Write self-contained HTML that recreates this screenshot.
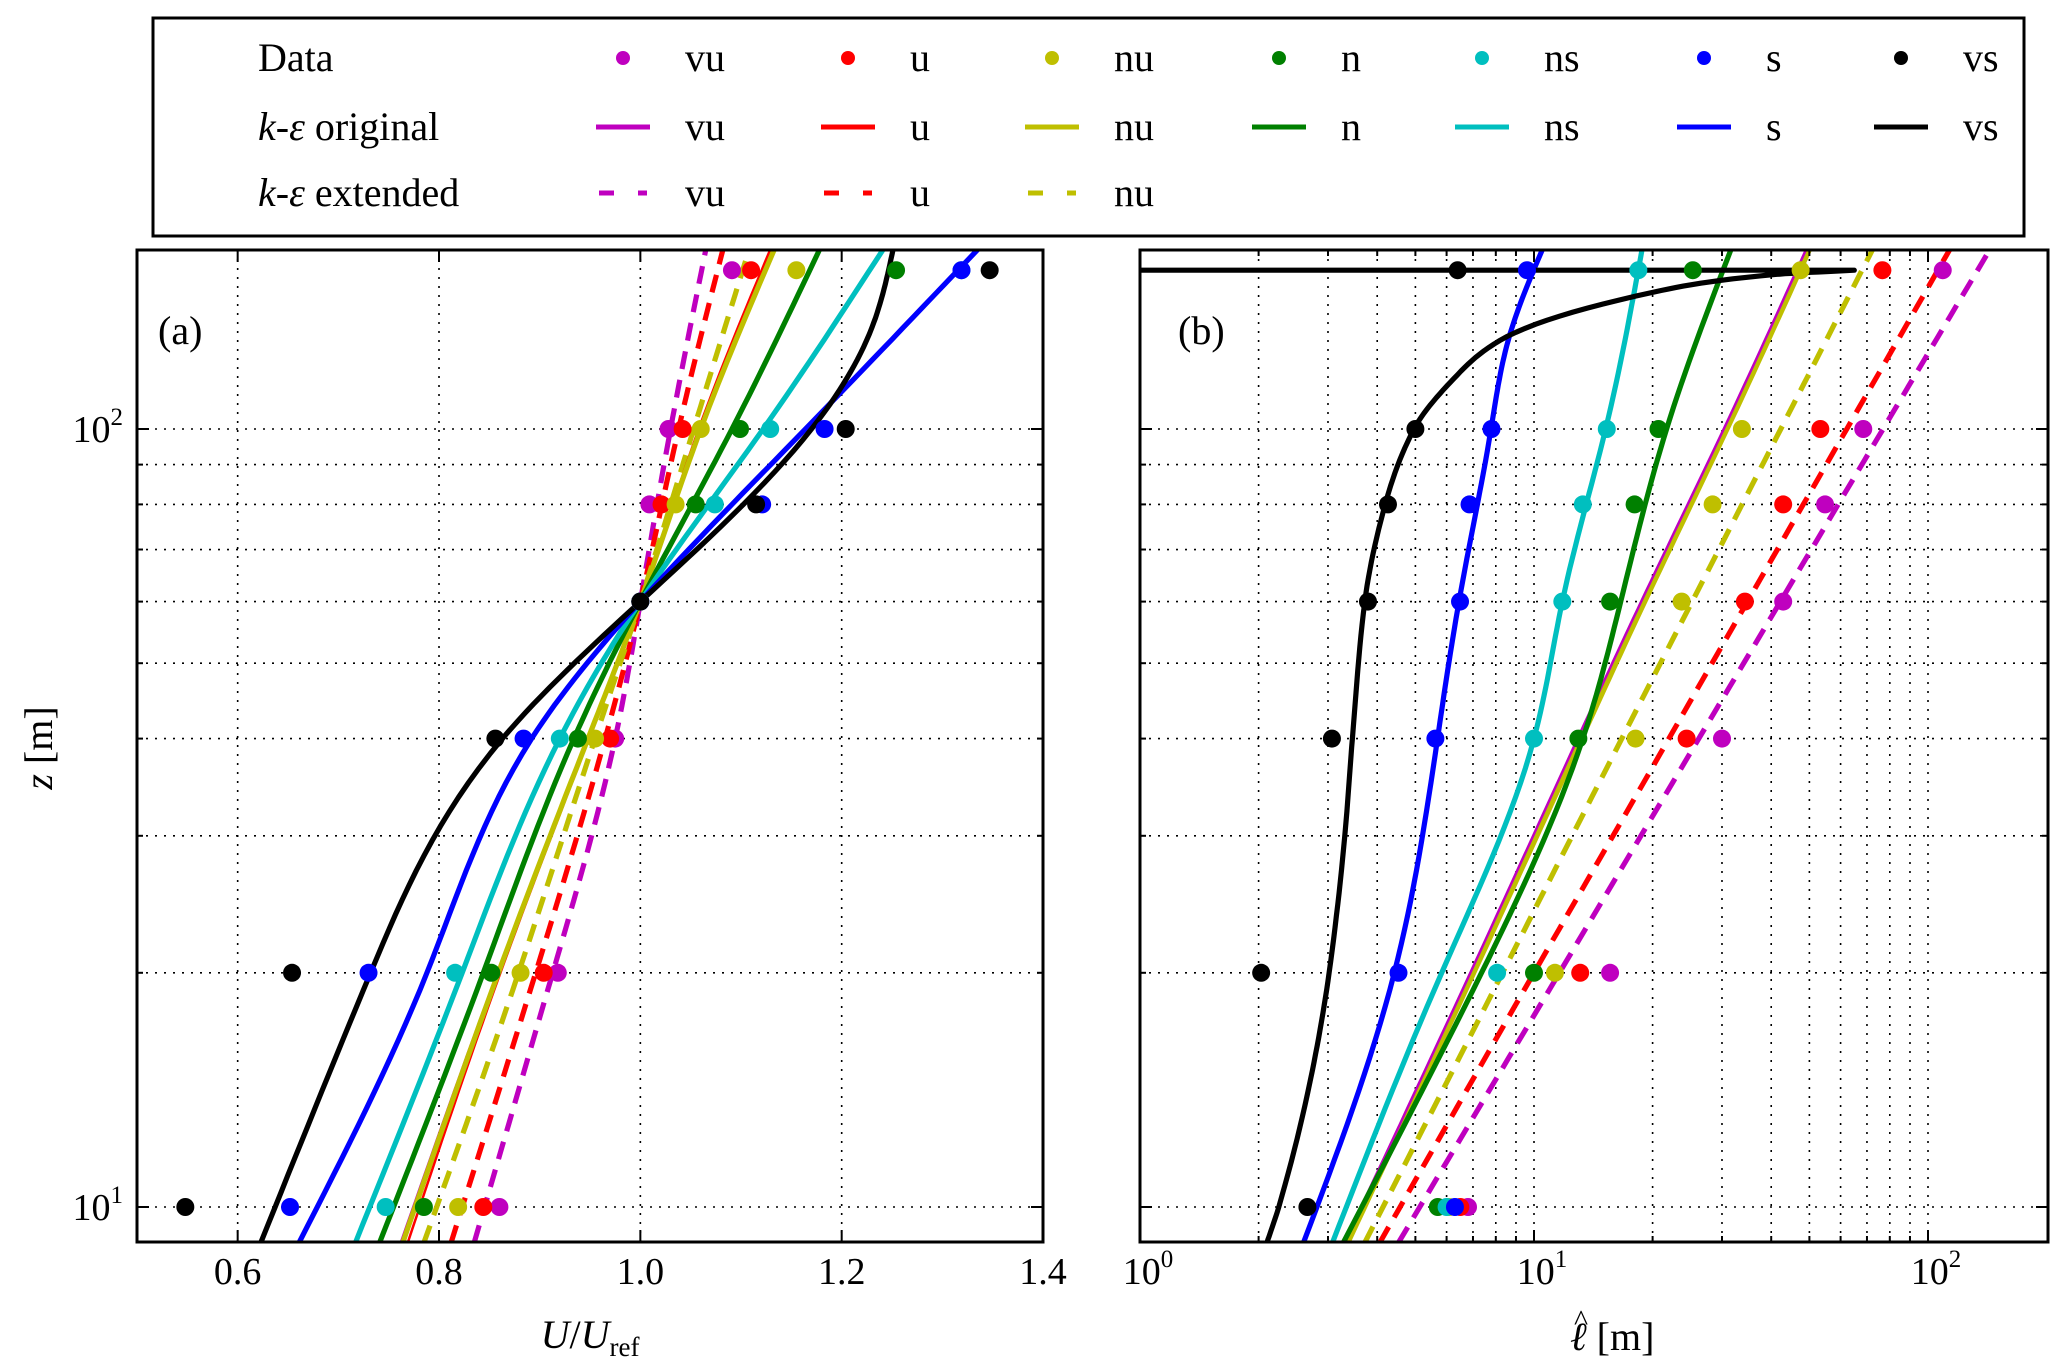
<!DOCTYPE html>
<html><head><meta charset="utf-8">
<style>
html,body{margin:0;padding:0;background:#fff;}
svg{display:block;}
text{font-family:"Liberation Serif","DejaVu Serif",serif;fill:#000;}
</style></head>
<body>
<svg id="fig" width="2067" height="1372" viewBox="0 0 2067 1372" xmlns="http://www.w3.org/2000/svg">
<defs>
<clipPath id="clipA"><rect x="137" y="250" width="906" height="992"/></clipPath>
<clipPath id="clipB"><rect x="1140" y="250" width="908" height="992"/></clipPath>
</defs>
<g id="legend">
<rect x="153" y="18" width="1871" height="218" fill="#fff" stroke="#000" stroke-width="3"/>
<text x="258" y="71" font-size="40">Data</text>
<text x="258" y="140" font-size="40"><tspan font-style="italic">k</tspan>-<tspan font-style="italic">ε</tspan> original</text>
<text x="258" y="206" font-size="40"><tspan font-style="italic">k</tspan>-<tspan font-style="italic">ε</tspan> extended</text>
</g>
<g id="panelA"></g>
<g id="panelB"></g>
</svg>
<script>
// ---- data ----
const names = ["vu","u","nu","n","ns","s","vs"];
const colors = ["#bf00bf","#ff0000","#bfbf00","#008000","#00bfbf","#0000ff","#000000"];
const dataZ = [10,20,40,60,80,100,160];
// panel (a) data U/Uref
const aVu = [0.860,0.918,0.975,1.0,1.009,1.028,1.091];
const aU  = [0.844,0.904,0.970,1.0,1.021,1.042,1.110];
const aNu = [0.819,0.881,0.955,1.0,1.035,1.060,1.155];
const aN  = [0.785,0.852,0.938,1.0,1.055,1.099,1.254];
const aNs = [0.747,0.816,0.920,1.0,1.074,1.129,1.319];
const aS  = [0.652,0.730,0.884,1.0,1.121,1.183,1.319];
const aVs = [0.548,0.654,0.856,1.0,1.115,1.204,1.347];
// panel (b) data length scale
const bVu = [6.8,15.6,30.0,42.9,54.8,68.5,109];
const bU  = [6.5,13.1,24.4,34.3,42.9,53.3,76.6];
const bNu = [6.1,11.3,18.1,23.7,28.4,33.7,47.5];
const bN  = [5.7,10.0,12.96,15.6,18.0,20.7,25.3];
const bNs = [6.0,8.06,10.0,11.8,13.3,15.3,18.4];
const bS  = [6.3,4.53,5.62,6.49,6.86,7.8,9.6];
const bVs = [2.66,2.03,3.07,3.79,4.26,5.0,6.4];
// model curves (anchor heights)
const curveZ = [9,20,40,60,100,170];
const aOrigVu = [0.762,0.858,0.948,1.0,1.060,1.134];
const aOrigU  = [0.769,0.861,0.949,1.0,1.058,1.129];
const aOrigNu = [0.764,0.859,0.948,1.0,1.060,1.133];
const aOrigN  = [0.741,0.844,0.934,1.0,1.091,1.178];
const aOrigNs = [0.717,0.823,0.920,1.0,1.122,1.241];
const aOrigS  = [0.661,0.788,0.892,1.0,1.164,1.335];
const aVsZ    = [9,20,40,60,100,135,170];
const aOrigVs = [0.623,0.732,0.863,1.0,1.170,1.230,1.251];
const aExtVu = [0.835,0.913,0.975,1.0,1.030,1.065];
const aExtU  = [0.812,0.896,0.965,1.0,1.038,1.082];
const aExtNu = [0.785,0.879,0.955,1.0,1.053,1.108];
const bOrigVu = [3.30,6.89,12.9,18.7,30.3,49];
const bOrigU  = [3.34,6.96,13.1,18.9,30.6,49.5];
const bOrigNu = [3.37,7.03,13.2,19.1,30.9,50];
const bOrigN  = [3.28,7.36,13.3,16.6,21.7,31.6];
const bOrigNs = [3.08,5.83,10.0,11.8,15.2,18.8];
const bSZ     = [9,20,40,60,100,130,170];
const bOrigS  = [2.6,4.42,5.69,6.45,7.78,8.6,10.5];
const bVsZ    = [9,10,15,20,30,40,60,80,100,115,130,150,158,160];
const bOrigVs = [2.1,2.25,2.74,3.02,3.31,3.46,3.72,4.19,4.96,6.15,8.2,20.2,41,65];
const bVsTopLeft = 0.8;
const bExtVu = [4.53,11.6,26.2,42.2,76.9,143.5];
const bExtU  = [4.06,10.0,22.0,34.8,62.2,113.5];
const bExtNu = [3.72,8.32,16.7,25.2,42.3,72.3];
const aTicks = [0.6,0.8,1.0,1.2,1.4];
const aTickLabels = ["0.6","0.8","1.0","1.2","1.4"];

// ---- scales ----
const A = {l:137,r:1043,t:250,b:1242};
const B = {l:1140,r:2048,t:250,b:1242};
function yz(z){return 1207-(Math.log10(z)-1)*778;}
function xa(v){return 137+(v-0.5)*1006.7;}
function xb(l){return 1140+Math.log10(l)*394;}
const NS="http://www.w3.org/2000/svg";
function mk(parent,tag,attrs){const e=document.createElementNS(NS,tag);for(const k in attrs)e.setAttribute(k,attrs[k]);parent.appendChild(e);return e;}
// natural cubic spline (C2) of x as function of y
function naturalPath(zs,xs){
  const n=zs.length,t=zs.map(yz),h=[];
  for(let i=0;i<n-1;i++)h.push(t[i+1]-t[i]);
  const a=new Array(n).fill(0),b=new Array(n).fill(1),c=new Array(n).fill(0),r=new Array(n).fill(0);
  for(let i=1;i<n-1;i++){a[i]=h[i-1];b[i]=2*(h[i-1]+h[i]);c[i]=h[i];
    r[i]=6*((xs[i+1]-xs[i])/h[i]-(xs[i]-xs[i-1])/h[i-1]);}
  for(let i=1;i<n;i++){const w=a[i]/b[i-1];b[i]-=w*c[i-1];r[i]-=w*r[i-1];}
  const M=new Array(n).fill(0);
  M[n-1]=r[n-1]/b[n-1];
  for(let i=n-2;i>=0;i--)M[i]=(r[i]-c[i]*M[i+1])/b[i];
  M[0]=0;M[n-1]=0;
  let s="M"+xs[0].toFixed(1)+","+t[0].toFixed(1);
  for(let i=0;i<n-1;i++){const hh=h[i];
    for(let k=1;k<=16;k++){const u=k/16,yy=u*hh;
      const x=M[i]*Math.pow(hh-yy,3)/(6*hh)+M[i+1]*Math.pow(yy,3)/(6*hh)+(xs[i]/hh-M[i]*hh/6)*(hh-yy)+(xs[i+1]/hh-M[i+1]*hh/6)*yy;
      s+=" L"+x.toFixed(1)+","+(t[i]+yy).toFixed(1);}}
  return s;
}
// monotone cubic (for the sharp-bending curve)
function monoPath(zs,xs){
  const n=zs.length,t=zs.map(yz),h=[],d=[],m=new Array(n);
  for(let i=0;i<n-1;i++){h.push(t[i+1]-t[i]);d.push((xs[i+1]-xs[i])/h[i]);}
  m[0]=d[0];m[n-1]=d[n-2];
  for(let i=1;i<n-1;i++){
    if(d[i-1]*d[i]<=0)m[i]=0;
    else{const w1=2*h[i]+h[i-1],w2=h[i]+2*h[i-1];m[i]=(w1+w2)/(w1/d[i-1]+w2/d[i]);}
  }
  let s="M"+xs[0].toFixed(1)+","+t[0].toFixed(1);
  for(let i=0;i<n-1;i++){
    for(let k=1;k<=12;k++){
      const u=k/12,hh=h[i];
      const h00=2*u*u*u-3*u*u+1,h10=u*u*u-2*u*u+u,h01=-2*u*u*u+3*u*u,h11=u*u*u-u*u;
      const x=h00*xs[i]+h10*hh*m[i]+h01*xs[i+1]+h11*hh*m[i+1];
      s+=" L"+x.toFixed(1)+","+(t[i]+u*hh).toFixed(1);
    }
  }
  return s;
}
const gA=document.getElementById("panelA"), gB=document.getElementById("panelB");
const minorZ=[20,30,40,50,60,70,80,90];

function gridAndAxes(g,P,xs){
  const grid=mk(g,"g",{});
  
  
  xs.forEach(x=>{const ln=mk(grid,"line",{x1:x,x2:x,y1:P.t,y2:P.b,stroke:"#000","stroke-width":1.6,"stroke-dasharray":"2,7"});
    
    });
  [10,100].concat(minorZ).forEach(z=>{const y=yz(z);const ln=mk(grid,"line",{x1:P.l,x2:P.r,y1:y,y2:y,stroke:"#000","stroke-width":1.6,"stroke-dasharray":"2,7"});
    
    
    const big=(z===10||z===100)?12:6;
    mk(grid,"line",{x1:P.l,x2:P.l+big,y1:y,y2:y,stroke:"#000","stroke-width":2});
    mk(grid,"line",{x1:P.r,x2:P.r-big,y1:y,y2:y,stroke:"#000","stroke-width":2});});
}
function frame(g,P){
  const r=mk(g,"rect",{x:P.l,y:P.t,width:P.r-P.l,height:P.b-P.t,fill:"none",stroke:"#000","stroke-width":3});
  
  
}
function curve(g,clip,zs,vals,xf,color,w,dash,name,extra,mono){
  let d=(mono?monoPath:naturalPath)(zs,vals.map(xf));
  if(extra!==undefined)d+=" L"+xf(extra).toFixed(1)+","+yz(zs[zs.length-1]).toFixed(1);
  const p=mk(g,"path",{d:d,fill:"none",stroke:color,"stroke-width":w,"stroke-linejoin":"round","clip-path":"url(#"+clip+")"});
  if(dash)p.setAttribute("stroke-dasharray",dash);
  
  
}
function dots(g,clip,vals,xf,color,name){
  dataZ.forEach((z,i)=>{const c=mk(g,"circle",{cx:xf(vals[i]),cy:yz(z),r:9,fill:color,"clip-path":"url(#"+clip+")"});
    
    });
}
const LW=5.2, DASH="18,11";

// panel A
gridAndAxes(gA,A,aTicks.slice(0,4).map(xa));
[[aExtVu,0],[aExtU,1],[aExtNu,2]].forEach(([v,i])=>curve(gA,"clipA",curveZ,v,xa,colors[i],LW,DASH,"curve-a-ext-"+names[i]));
curve(gA,"clipA",curveZ,aOrigVu,xa,colors[0],2.5,null,"curve-a-orig-vu");
curve(gA,"clipA",curveZ,aOrigU,xa,colors[1],2.5,null,"curve-a-orig-u");
curve(gA,"clipA",curveZ,aOrigNu,xa,colors[2],LW,null,"curve-a-orig-nu");
curve(gA,"clipA",curveZ,aOrigN,xa,colors[3],LW,null,"curve-a-orig-n");
curve(gA,"clipA",curveZ,aOrigNs,xa,colors[4],LW,null,"curve-a-orig-ns");
curve(gA,"clipA",curveZ,aOrigS,xa,colors[5],LW,null,"curve-a-orig-s");
curve(gA,"clipA",aVsZ,aOrigVs,xa,colors[6],LW,null,"curve-a-orig-vs");
[aVu,aU,aNu,aN,aNs,aS,aVs].forEach((v,i)=>dots(gA,"clipA",v,xa,colors[i],"data-a-"+names[i]));
frame(gA,A);
aTicks.forEach((t,i)=>{const x=xa(t);
  mk(gA,"line",{x1:x,x2:x,y1:A.b,y2:A.b-12,stroke:"#000","stroke-width":2});
  mk(gA,"line",{x1:x,x2:x,y1:A.t,y2:A.t+12,stroke:"#000","stroke-width":2});
  const tx=mk(gA,"text",{x:x,y:1284,"font-size":38,"text-anchor":"middle"});tx.textContent=aTickLabels[i];
  
  });
[[10,"1"],[100,"2"]].forEach(([z,e])=>{const t=mk(gA,"text",{x:123,y:yz(z)+13,"font-size":38,"text-anchor":"end"});
  t.innerHTML='10<tspan font-size="25" dy="-17">'+e+'</tspan>';
  
  });
let t=mk(gA,"text",{x:158,y:344,"font-size":40});t.textContent="(a)";


t=mk(gA,"text",{x:590,y:1348,"font-size":40,"text-anchor":"middle"});
t.innerHTML='<tspan font-style="italic">U</tspan>/<tspan font-style="italic">U</tspan><tspan font-size="27" dy="8">ref</tspan>';


t=mk(gA,"text",{x:0,y:0,"font-size":40,"text-anchor":"middle",transform:"translate(52,748) rotate(-90)"});
t.innerHTML='<tspan font-style="italic">z</tspan> [m]';



// panel B
const bGrid=[];for(let d=1;d<=100;d*=10)for(let k=1;k<10;k++){const v=k*d;if(v>1&&v<200)bGrid.push(xb(v));}
gridAndAxes(gB,B,bGrid);
[[bExtVu,0],[bExtU,1],[bExtNu,2]].forEach(([v,i])=>curve(gB,"clipB",curveZ,v,xb,colors[i],LW,DASH,"curve-b-ext-"+names[i]));
curve(gB,"clipB",curveZ,bOrigU,xb,colors[1],2.5,null,"curve-b-orig-u");
curve(gB,"clipB",curveZ,bOrigNu,xb,colors[2],LW,null,"curve-b-orig-nu");
curve(gB,"clipB",curveZ,bOrigVu,xb,colors[0],2.5,null,"curve-b-orig-vu");
curve(gB,"clipB",curveZ,bOrigN,xb,colors[3],LW,null,"curve-b-orig-n");
curve(gB,"clipB",curveZ,bOrigNs,xb,colors[4],LW,null,"curve-b-orig-ns");
curve(gB,"clipB",bSZ,bOrigS,xb,colors[5],LW,null,"curve-b-orig-s");
curve(gB,"clipB",bVsZ,bOrigVs,xb,colors[6],LW,null,"curve-b-orig-vs",bVsTopLeft,true);
[bVu,bU,bNu,bN,bNs,bS,bVs].forEach((v,i)=>dots(gB,"clipB",v,xb,colors[i],"data-b-"+names[i]));
frame(gB,B);
for(let d=1;d<=100;d*=10)for(let k=1;k<10;k++){const v=k*d;if(v<=1||v>=200)continue;const x=xb(v);const L=(k===1)?12:6;
  mk(gB,"line",{x1:x,x2:x,y1:B.b,y2:B.b-L,stroke:"#000","stroke-width":2});
  mk(gB,"line",{x1:x,x2:x,y1:B.t,y2:B.t+L,stroke:"#000","stroke-width":2});}
[[1,"0"],[10,"1"],[100,"2"]].forEach(([v,e])=>{const t2=mk(gB,"text",{x:xb(v)+8,y:1284,"font-size":38,"text-anchor":"middle"});
  t2.innerHTML='10<tspan font-size="25" dy="-17">'+e+'</tspan>';
  
  });
t=mk(gB,"text",{x:1178,y:344,"font-size":40});t.textContent="(b)";


t=mk(gB,"text",{x:1570,y:1350,"font-size":40});
t.innerHTML='<tspan font-style="italic">ℓ</tspan> [m]';


t=mk(gB,"text",{x:1574,y:1330,"font-size":30});
t.textContent='^';



// legend entries
const lg=document.getElementById("legend");
const legX=[623,848,1052,1279,1482,1704,1901];
const rowY=[58,127,193];
names.forEach((n,i)=>{
  const x=legX[i];
  const c=mk(lg,"circle",{cx:x,cy:rowY[0],r:7,fill:colors[i]});
  
  
  const l=mk(lg,"line",{x1:x-27,x2:x+27,y1:rowY[1],y2:rowY[1],stroke:colors[i],"stroke-width":5});
  
  
  const rows=(i<3)?3:2;
  if(i<3){const d=mk(lg,"line",{x1:x-24,x2:x+24,y1:rowY[2],y2:rowY[2],stroke:colors[i],"stroke-width":5,"stroke-dasharray":"15,24"});
    
    }
  for(let r=0;r<rows;r++){const tt=mk(lg,"text",{x:x+62,y:rowY[r]+13,"font-size":40});tt.textContent=n;
    
    }
});
</script>
</body></html>
